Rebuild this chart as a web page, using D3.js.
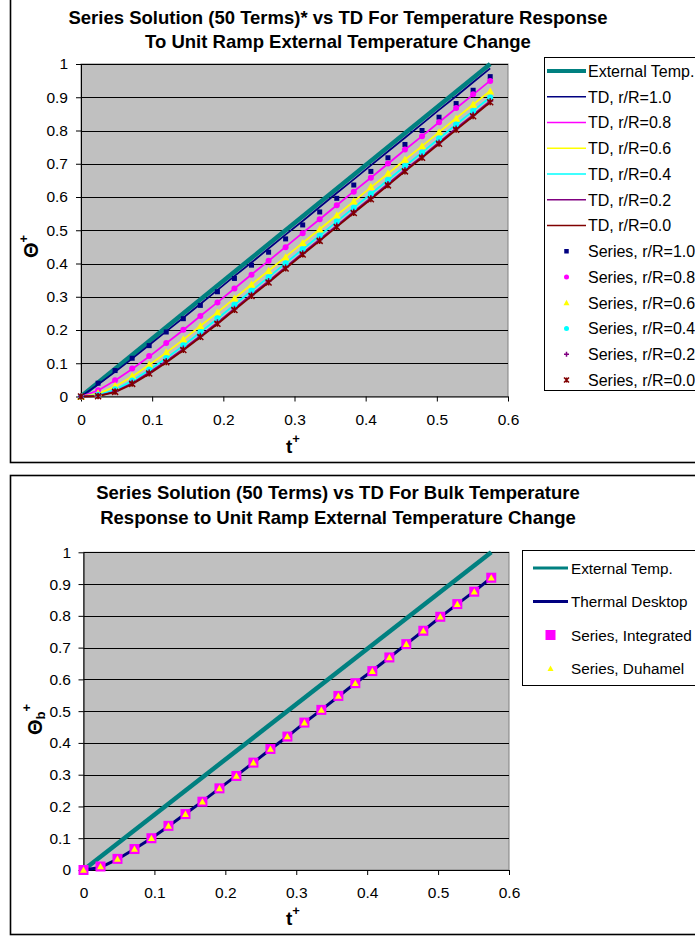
<!DOCTYPE html>
<html><head><meta charset="utf-8">
<script src="https://cdn.jsdelivr.net/npm/d3@7"></script>
<style>
body{margin:0;background:#fff}
svg{display:block}
text{font-family:Arial,"Liberation Sans",sans-serif;fill:#000}
</style></head>
<body><svg id="c" width="695" height="936"></svg>
<script>
// ---------- data ----------
const tK = [0,0.024,0.0479,0.0719,0.0958,0.1198,0.1438,0.1677,0.1917,0.2156,0.2396,0.2636,0.2875,0.3115,0.3354,0.3594,0.3833,0.4073,0.4313,0.4552,0.4792,0.5031,0.5271,0.5510,0.575];
const extT = [0, 0.575];
const extV = [0, 1];

const td10 = [0,0.036,0.074,0.114,0.155,0.196,0.237,0.278,0.320,0.362,0.403,0.445,0.487,0.528,0.570,0.612,0.653,0.695,0.737,0.778,0.820,0.862,0.903,0.945,0.987];
const td08 = [0,0.018,0.048,0.083,0.120,0.160,0.200,0.242,0.283,0.325,0.367,0.408,0.450,0.492,0.533,0.575,0.617,0.658,0.700,0.742,0.783,0.825,0.867,0.908,0.950];
const td06 = [0,0.008,0.030,0.060,0.095,0.132,0.171,0.212,0.253,0.295,0.337,0.378,0.420,0.462,0.503,0.545,0.587,0.629,0.670,0.712,0.753,0.795,0.837,0.878,0.919];
const td04 = [0,0.004,0.020,0.047,0.080,0.115,0.153,0.193,0.234,0.276,0.318,0.359,0.401,0.443,0.484,0.526,0.568,0.609,0.651,0.693,0.734,0.776,0.818,0.859,0.900];
const td02 = [0,0.002,0.015,0.040,0.072,0.106,0.143,0.182,0.222,0.264,0.306,0.347,0.389,0.431,0.472,0.514,0.556,0.597,0.639,0.681,0.722,0.764,0.806,0.847,0.889];
const td00 = [0,0.001,0.013,0.037,0.068,0.102,0.139,0.178,0.218,0.260,0.302,0.343,0.385,0.427,0.468,0.510,0.552,0.593,0.635,0.677,0.718,0.760,0.802,0.843,0.885];

const s10 = [0,0.040,0.078,0.115,0.153,0.194,0.234,0.274,0.315,0.355,0.395,0.434,0.474,0.516,0.555,0.596,0.636,0.677,0.718,0.758,0.800,0.840,0.881,0.921,0.962];
const s08 = [0,0.019,0.049,0.084,0.122,0.161,0.201,0.242,0.283,0.325,0.366,0.408,0.449,0.491,0.533,0.575,0.616,0.658,0.701,0.743,0.783,0.825,0.868,0.909,0.949];
const s06 = [0,0.010,0.032,0.062,0.096,0.133,0.172,0.212,0.253,0.295,0.337,0.378,0.419,0.462,0.503,0.545,0.587,0.631,0.671,0.713,0.753,0.795,0.836,0.878,0.918];
const s04 = [0,0.005,0.022,0.048,0.081,0.116,0.154,0.194,0.235,0.276,0.318,0.359,0.401,0.443,0.484,0.526,0.568,0.609,0.651,0.693,0.734,0.776,0.818,0.859,0.899];
const s02 = [0,0.002,0.016,0.041,0.073,0.107,0.144,0.183,0.223,0.264,0.306,0.347,0.389,0.431,0.472,0.514,0.556,0.597,0.639,0.681,0.722,0.764,0.806,0.847,0.889];
const s00 = [0,0.001,0.014,0.038,0.069,0.103,0.140,0.179,0.219,0.260,0.302,0.343,0.385,0.427,0.468,0.510,0.552,0.593,0.635,0.677,0.718,0.760,0.802,0.843,0.885];

const bulkTD = [0,0.008,0.034,0.066,0.100,0.138,0.177,0.216,0.257,0.297,0.338,0.380,0.420,0.463,0.504,0.546,0.588,0.627,0.669,0.711,0.753,0.796,0.837,0.877,0.920];
const bulkIntegrated = [0,0.011,0.035,0.066,0.100,0.139,0.176,0.215,0.257,0.296,0.338,0.381,0.420,0.464,0.504,0.548,0.588,0.626,0.669,0.711,0.753,0.797,0.837,0.876,0.920];
const bulkDuhamel = [0,0.011,0.035,0.066,0.100,0.139,0.176,0.215,0.257,0.296,0.338,0.381,0.420,0.464,0.504,0.548,0.588,0.626,0.669,0.711,0.753,0.797,0.837,0.876,0.920];

const xTicks = [0,0.1,0.2,0.3,0.4,0.5,0.6];
const yTicks = [0,0.1,0.2,0.3,0.4,0.5,0.6,0.7,0.8,0.9,1];

const topTitle = ["Series Solution (50 Terms)* vs TD For Temperature Response","To Unit Ramp External Temperature Change"];
const botTitle = ["Series Solution (50 Terms) vs TD For Bulk Temperature","Response to Unit Ramp External Temperature Change"];
const topNames = ["External Temp.","TD, r/R=1.0","TD, r/R=0.8","TD, r/R=0.6","TD, r/R=0.4","TD, r/R=0.2","TD, r/R=0.0",
  "Series, r/R=1.0","Series, r/R=0.8","Series, r/R=0.6","Series, r/R=0.4","Series, r/R=0.2","Series, r/R=0.0"];
const botNames = ["External Temp.","Thermal Desktop","Series, Integrated","Series, Duhamel"];

// ---------- drawing ----------
const svg = d3.select("#c");
const fmt = d => (d===0||d===1) ? String(d) : d.toFixed(1);

function markerPath(sel, type, size, color){
  const s = size/2;
  if(type==="square") sel.append("rect").attr("x",-s).attr("y",-s).attr("width",size).attr("height",size).attr("fill",color);
  else if(type==="diamond") sel.append("path").attr("d",`M0,${-s}L${s},0L0,${s}L${-s},0Z`).attr("fill",color);
  else if(type==="circle") sel.append("circle").attr("r",s).attr("fill",color);
  else if(type==="triangle") sel.append("path").attr("d",`M0,${-s}L${s},${s*0.8}L${-s},${s*0.8}Z`).attr("fill",color);
  else if(type==="plus") sel.append("path").attr("d",`M${-s},0H${s}M0,${-s}V${s}`).attr("stroke",color).attr("stroke-width",1.5);
  else if(type==="x") sel.append("path").attr("d",`M${-s},${-s}L${s},${s}M${-s},${s}L${s},${-s}M0,${-s}V${s}`).attr("stroke",color).attr("stroke-width",1.5);
}

function drawChart(o){
  const g = svg.append("g");
  g.append("rect").attr("x",o.frame[0]).attr("y",o.frame[1]).attr("width",o.frame[2]).attr("height",o.frame[3])
    .attr("fill","#fff").attr("stroke","#000").attr("stroke-width",1.6);
  o.title.forEach((t,i)=>g.append("text").attr("x",o.titleX).attr("y",o.titleY[i]).attr("text-anchor","middle")
    .attr("font-weight","bold").attr("font-size",18.5).text(t));
  const x = d3.scaleLinear().domain([0,0.6]).range(o.xr);
  const y = d3.scaleLinear().domain([0,1]).range(o.yr);
  g.append("rect").attr("x",o.xr[0]).attr("y",o.yr[1]).attr("width",o.xr[1]-o.xr[0]).attr("height",o.yr[0]-o.yr[1])
    .attr("fill","#C0C0C0").attr("stroke","#808080").attr("stroke-width",1);
  g.append("g").selectAll("line").data(yTicks.filter(d=>d>0)).join("line")
    .attr("x1",o.xr[0]).attr("x2",o.xr[1]).attr("y1",d=>Math.round(y(d))+0.5).attr("y2",d=>Math.round(y(d))+0.5)
    .attr("stroke","#000").attr("stroke-width",1);
  const ya = g.append("g").attr("transform",`translate(${o.xr[0]},0)`)
    .call(d3.axisLeft(y).tickValues(yTicks).tickFormat(fmt).tickSize(5).tickSizeOuter(0).tickPadding(o.yPad));
  const xa = g.append("g").attr("transform",`translate(0,${o.yr[0]})`)
    .call(d3.axisBottom(x).tickValues(xTicks).tickFormat(fmt).tickSize(5).tickSizeOuter(0).tickPadding(12));
  [ya,xa].forEach(a=>{a.selectAll("text").attr("font-size",15.5).attr("font-family",null).attr("fill","#000");
    a.selectAll("line,path").attr("stroke","#000");a.attr("font-family",null);});
  const xl = g.append("text").attr("x",o.xLab[0]).attr("y",o.xLab[1]).attr("font-weight","bold");
  xl.append("tspan").attr("font-size",19).text("t");
  xl.append("tspan").attr("font-size",13).attr("dy",-10).text("+");
  const yl = g.append("text").attr("transform",`translate(${o.yLab[0]},${o.yLab[1]}) rotate(-90)`).attr("font-weight","bold");
  yl.append("tspan").attr("font-size",20).text("Θ");
  if(o.sub){ yl.append("tspan").attr("font-size",13).attr("dy",3).text(o.sub);
             yl.append("tspan").attr("font-size",13).attr("dy",-14).text("+"); }
  else yl.append("tspan").attr("font-size",13).attr("dy",-10).text("+");
  const clip = g.append("g");
  const line = d3.line().x(d=>x(d[0])).y(d=>y(d[1]));
  o.lines.forEach(L=>clip.append("path").attr("d",line(L.t.map((t,i)=>[t,L.v[i]]))).attr("fill","none")
    .attr("stroke",L.color).attr("stroke-width",L.w).attr("stroke-linejoin","round"));
  o.marks.forEach(M=>{
    clip.append("g").selectAll("g").data(M.t.map((t,i)=>[t,M.v[i]])).join("g")
      .attr("transform",d=>`translate(${x(d[0])},${y(d[1])})`).each(function(){markerPath(d3.select(this),M.type,M.size,M.color);});
  });
  const lg = g.append("g");
  lg.append("rect").attr("x",o.leg[0]).attr("y",o.leg[1]).attr("width",200).attr("height",o.leg[2])
    .attr("fill","#fff").attr("stroke","#000").attr("stroke-width",1);
  o.legItems.forEach((it,i)=>{
    const yy = o.legY0 + i*o.legDy;
    if(it.kind==="line") lg.append("line").attr("x1",o.legLine[0]).attr("x2",o.legLine[1]).attr("y1",yy).attr("y2",yy)
      .attr("stroke",it.color).attr("stroke-width",it.w);
    else { const m = lg.append("g").attr("transform",`translate(${(o.legLine[0]+o.legLine[1])/2},${yy})`); markerPath(m,it.type,it.lsize,it.color); }
    lg.append("text").attr("x",o.legText).attr("y",yy).attr("dy","0.36em").attr("font-size",o.legFont).text(it.name);
  });
}

const C = {teal:"#008080",navy:"#000080",mag:"#FF00FF",yel:"#FFFF00",cyan:"#00FFFF",pur:"#800080",red:"#800000"};
const tdSets = [[td10,C.navy],[td08,C.mag],[td06,C.yel],[td04,C.cyan],[td02,C.pur],[td00,C.red]];
const sSets = [[s10,C.navy,"square",5,4.5],[s08,C.mag,"circle",6,5],[s06,C.yel,"triangle",8,6],[s04,C.cyan,"circle",6,5],[s02,C.pur,"plus",6,5],[s00,C.red,"x",6,5]];

drawChart({
  frame:[10.5,-2,700,464.5], title:topTitle, titleX:338, titleY:[24,48],
  xr:[81,508], yr:[396.5,64], yPad:8,
  xLab:[286,453], yLab:[38,258], sub:null,
  lines:[{t:extT,v:extV,color:C.teal,w:4.5}].concat(tdSets.map(s=>({t:tK,v:s[0],color:s[1],w:1.8}))),
  marks:sSets.map(s=>({t:tK,v:s[0],color:s[1],type:s[2],size:s[3]})),
  leg:[544.5,57.5,333], legY0:71, legDy:25.75, legLine:[547,586], legText:588, legFont:16,
  legItems:[{kind:"line",color:C.teal,w:4,name:topNames[0]}]
    .concat(tdSets.map((s,i)=>({kind:"line",color:s[1],w:1.5,name:topNames[i+1]})))
    .concat(sSets.map((s,i)=>({kind:"mark",color:s[1],type:s[2],lsize:s[4],name:topNames[i+7]})))
});

drawChart({
  frame:[10.5,475.5,700,459], title:botTitle, titleX:338, titleY:[499,524],
  xr:[83.5,509], yr:[870,552.3], yPad:7.5,
  xLab:[286,925], yLab:[42,735], sub:"b",
  lines:[{t:extT,v:extV,color:C.teal,w:4.5},{t:tK,v:bulkTD,color:C.navy,w:3}],
  marks:[{t:tK,v:bulkIntegrated,color:C.mag,type:"square",size:10},{t:tK,v:bulkDuhamel,color:C.yel,type:"triangle",size:7}],
  leg:[522.5,550.5,135], legY0:568, legDy:33.5, legLine:[533,568], legText:571, legFont:15.3,
  legItems:[{kind:"line",color:C.teal,w:3,name:botNames[0]},{kind:"line",color:C.navy,w:3,name:botNames[1]},
    {kind:"mark",color:C.mag,type:"square",lsize:10,name:botNames[2]},{kind:"mark",color:C.yel,type:"triangle",lsize:6,name:botNames[3]}]
});
</script></body></html>
